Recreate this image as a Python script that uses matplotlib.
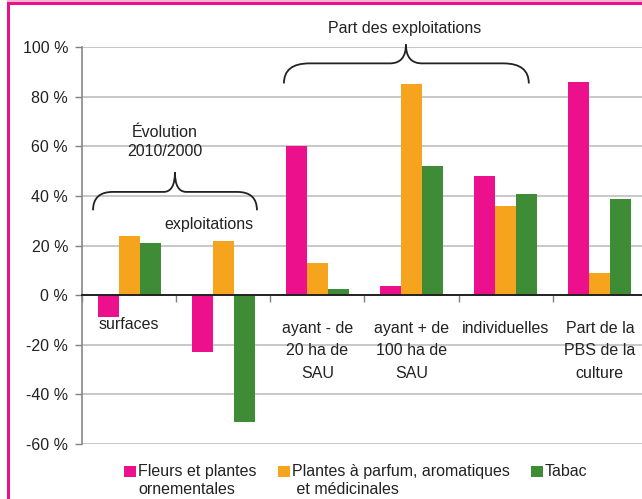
import matplotlib
matplotlib.use("Agg")
import matplotlib.pyplot as plt
from matplotlib.patches import Rectangle, PathPatch
from matplotlib.path import Path
import numpy as np

plt.rcParams['font.family'] = ['Liberation Sans', 'DejaVu Sans']

# ---- data ----
categories = ["surfaces", "", "ayant - de\n20 ha de\nSAU", "ayant + de\n100 ha de\nSAU",
              "individuelles", "Part de la\nPBS de la\nculture"]
series_names = ["Fleurs et plantes\nornementales",
                "Plantes à parfum, aromatiques\n et médicinales",
                "Tabac"]
fleurs = [-9, -23, 60, 3.6, 48, 86]
plantes = [24, 22, 13, 85, 36, 9]
tabac = [21, -51, 2.4, 52, 40.6, 38.6]
yticks = [-60, -40, -20, 0, 20, 40, 60, 80, 100]
ytick_labels = ["-60 %", "-40 %", "-20 %", "0 %", "20 %", "40 %", "60 %", "80 %", "100 %"]

colors = ["#EC108C", "#F6A41E", "#3E8C36"]
FS = 11.5
TXT = "#222222"

W, H = 642, 499
fig = plt.figure(figsize=(W / 100, H / 100), dpi=100)
fig.patch.set_facecolor("white")

# axes: left 82px, right ~647px, top y=47px (100%), bottom y=444px (-60%)
ax = fig.add_axes([82 / W, 1 - 444 / H, 565 / W, (444 - 47) / H])
ax.set_xlim(-0.5, 5.5)
ax.set_ylim(-60, 100)

x = np.arange(len(categories))
bw = 0.223
bars = []
for k, (vals, c) in enumerate(zip([fleurs, plantes, tabac], colors)):
    b = ax.bar(x + (k - 1) * bw, vals, width=bw, color=c, label=series_names[k], zorder=3)
    bars.append(b)

# grid
ax.set_yticks(yticks)
ax.set_yticklabels(ytick_labels, fontsize=FS, color=TXT)
ax.yaxis.grid(True, color="#C4C4C4", linewidth=1.3, zorder=0)
ax.set_axisbelow(True)
ax.tick_params(axis="y", length=5, width=1, color="#808080", pad=5)

# x axis: spine at zero, ticks at boundaries
for s in ["top", "right"]:
    ax.spines[s].set_visible(False)
ax.spines["left"].set_color("#888888")
ax.spines["left"].set_linewidth(1.2)
ax.spines["bottom"].set_position(("data", 0))
ax.spines["bottom"].set_color("#222222")
ax.spines["bottom"].set_linewidth(1.4)
ax.spines["bottom"].set_zorder(4)
ax.set_xticks(np.arange(-0.5, 5.6, 1.0))
ax.set_xticklabels([])
ax.tick_params(axis="x", length=5, width=1, color="#808080", direction="out")

# category labels
for i, lab in enumerate(categories):
    if lab:
        ytop = -9.0 if i == 0 else -10.4
        ax.text(i, ytop, lab, ha="center", va="top", fontsize=FS, color=TXT,
                linespacing=1.62, multialignment="center")
ax.text(0.85, 28.6, "exploitations", ha="center", va="center", fontsize=FS, color=TXT)
ax.text(0.38, 61.6, "Évolution\n2010/2000", ha="center", va="center", fontsize=FS,
        color=TXT, linespacing=1.35)
ax.text(2.93, 107.4, "Part des exploitations", ha="center", va="center", fontsize=FS,
        color=TXT, clip_on=False)


def brace(x0, x1, xt, yb, yh, yt, rx, rx2):
    verts = [(x0, yb), (x0, yh), (x0 + rx, yh),
             (xt - rx2, yh), (xt, yh), (xt, yt),
             (xt, yh), (xt + rx2, yh),
             (x1 - rx, yh), (x1, yh), (x1, yb)]
    codes = [Path.MOVETO, Path.CURVE3, Path.CURVE3,
             Path.LINETO, Path.CURVE3, Path.CURVE3,
             Path.CURVE3, Path.CURVE3,
             Path.LINETO, Path.CURVE3, Path.CURVE3]
    p = PathPatch(Path(verts, codes), facecolor="none", edgecolor="#222222",
                  linewidth=1.3, clip_on=False, zorder=5)
    ax.add_patch(p)


brace(-0.383, 1.358, 0.487, 34.2, 41.6, 49.5, 0.21, 0.12)
brace(1.644, 4.245, 2.94, 85.3, 93.4, 101.0, 0.27, 0.17)

# legend (square aligned with first text line)
legend_x = [124, 278, 531]   # pixel x of the squares
sq = 11.5
for name, c, lx in zip(series_names, colors, legend_x):
    fig.add_artist(Rectangle((lx / W, 1 - 477 / H), sq / W, sq / H,
                             transform=fig.transFigure, facecolor=c, edgecolor="none"))
    fig.text((lx + sq + 2.5) / W, 1 - 464 / H, name, ha="left", va="top", fontsize=FS,
             color=TXT, linespacing=1.28, multialignment="left")

# magenta border
fig.add_artist(Rectangle((7 / W, 1 - 2 / H), 1 - 7 / W, 2 / H, transform=fig.transFigure,
                         facecolor="#F6B6D6", edgecolor="none"))
fig.add_artist(Rectangle((7 / W, 1 - 5 / H), 1 - 7 / W, 3 / H, transform=fig.transFigure,
                         facecolor="#EC108C", edgecolor="none"))
fig.add_artist(Rectangle((7 / W, 0), 2.5 / W, 1 - 2 / H, transform=fig.transFigure,
                         facecolor="#EC108C", edgecolor="none"))

fig.savefig("out.png", dpi=100)
